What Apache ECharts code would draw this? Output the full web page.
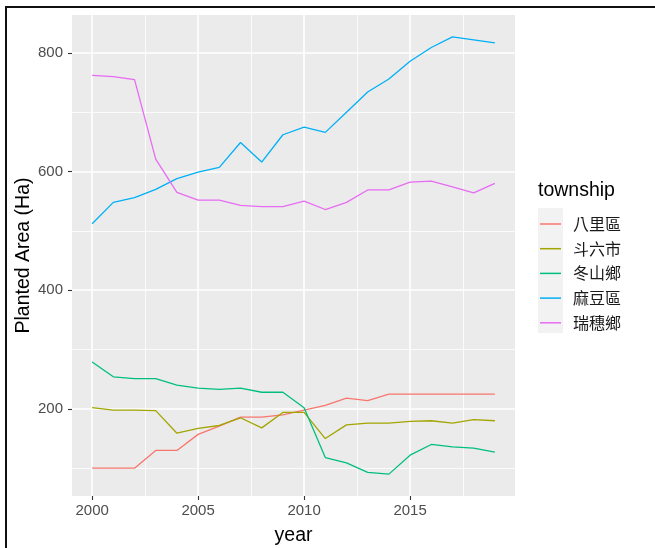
<!DOCTYPE html>
<html><head><meta charset="utf-8">
<script src="https://cdn.jsdelivr.net/npm/echarts@6/dist/echarts.min.js"></script>
<style>
html,body{margin:0;padding:0;background:#fff;}
#c{position:absolute;left:0;top:0;width:655px;height:548px;}
#frame{position:absolute;left:5px;top:6px;right:0;bottom:0;border-top:2px solid #111;border-left:2px solid #111;pointer-events:none;}
</style></head><body>
<div id="c"></div><div id="frame"></div>
<script>
const years = [2000,2001,2002,2003,2004,2005,2006,2007,2008,2009,2010,2011,2012,2013,2014,2015,2016,2017,2018,2019];
const townships = ['八里區','斗六市','冬山鄉','麻豆區','瑞穗鄉'];
const bali     = [100,100,100,130,130,157,171,186,186,190,198,206,218,214,225,225,225,225,225,225];
const douliu   = [202,198,198,197,159,167,172,185,168,194,194,150,173,176,176,179,180,176,182,180];
const dongshan = [279,254,251,251,240,235,233,235,228,228,202,118,109,93,90,122,140,136,134,127];
const madou    = [512,548,556,570,588,599,607,649,616,662,675,666,700,734,756,786,809,827,822,817];
const ruisui   = [762,760,755,621,565,552,552,543,541,541,550,536,548,569,569,582,584,574,564,580];
const xTicks = [2000,2005,2010,2015];
const yTicks = [200,400,600,800];
const xMinor = [2002.5,2007.5,2012.5,2017.5];
const yMinor = [100,300,500,700];

const seriesValues = [bali, douliu, dongshan, madou, ruisui];
const colors = ['#F8766D','#A3A500','#00BF7D','#00B0F6','#E76BF3'];
const FONT = '"Liberation Sans", Arial, sans-serif';
const CJK = '"Noto Sans CJK TC", sans-serif';

const all = seriesValues.flat();
const yLo = Math.min(...all), yHi = Math.max(...all);
const yMin = yLo - 0.05*(yHi-yLo), yMax = yHi + 0.05*(yHi-yLo);
const xLo = years[0], xHi = years[years.length-1];
const xMin = xLo - 0.05*(xHi-xLo), xMax = xHi + 0.05*(xHi-xLo);

const series = [{
  type:'line', data:[], z:1, silent:true,
  markLine:{
    silent:true, z:1, symbol:['none','none'], animation:false,
    label:{show:false},
    lineStyle:{color:'#ffffff', width:0.8, type:'solid'},
    emphasis:{disabled:true},
    data:[...xMinor.map(v=>({xAxis:v})), ...yMinor.map(v=>({yAxis:v}))]
  }
}];
townships.forEach((name,i)=>{
  series.push({
    name, type:'line', z:2,
    data: years.map((y,j)=>[y, seriesValues[i][j]]),
    showSymbol:false, symbol:'none',
    color: colors[i],
    lineStyle:{color:colors[i], width:1.3},
    emphasis:{disabled:true}
  });
});

const chart = echarts.init(document.getElementById('c'), null, {renderer:'canvas'});
chart.setOption({
  animation:false,
  backgroundColor:'transparent',
  grid:{left:72, top:15, right:140, bottom:52, show:true, backgroundColor:'#EBEBEB', borderWidth:0, containLabel:false, outerBoundsMode:'none'},
  title:{text:'township', left:538, top:181, padding:0,
    textStyle:{fontSize:19.5, fontWeight:'normal', color:'#000', fontFamily:FONT}},
  legend:{
    data:townships, orient:'vertical', left:540, top:214, padding:0,
    icon:'rect', itemWidth:21, itemHeight:1.5, itemGap:4.7,
    textStyle:{fontSize:16, color:'#1A1A1A', fontFamily:CJK, lineHeight:20, padding:[0,0,0,7]},
    selectedMode:false
  },
  graphic:[{type:'rect', left:538, top:208, shape:{width:25, height:125}, style:{fill:'#F2F2F2'}, z:-1, silent:true}],
  xAxis:{
    type:'value', min:xMin, max:xMax,
    name:'year', nameLocation:'middle', nameGap:30, nameMoveOverlap:false,
    nameTextStyle:{fontSize:19.5, color:'#000', fontFamily:FONT},
    axisLine:{show:false},
    axisTick:{show:true, length:4, lineStyle:{color:'#333333', width:1.1}, customValues:xTicks},
    axisLabel:{customValues:xTicks, margin:7, fontSize:15, color:'#4D4D4D', fontFamily:FONT, formatter:v=>String(Math.round(v))},
    splitLine:{show:true, lineStyle:{color:'#ffffff', width:1.6}}
  },
  yAxis:{
    type:'value', min:yMin, max:yMax,
    name:'Planted Area (Ha)', nameLocation:'middle', nameGap:38, nameRotate:90, nameMoveOverlap:false,
    nameTextStyle:{fontSize:19.5, color:'#000', fontFamily:FONT},
    axisLine:{show:false},
    axisTick:{show:true, length:4, lineStyle:{color:'#333333', width:1.1}, customValues:yTicks},
    axisLabel:{customValues:yTicks, margin:9, fontSize:15, color:'#4D4D4D', fontFamily:FONT, formatter:v=>String(Math.round(v))},
    splitLine:{show:true, lineStyle:{color:'#ffffff', width:1.6}}
  },
  series
});
</script>
</body></html>
